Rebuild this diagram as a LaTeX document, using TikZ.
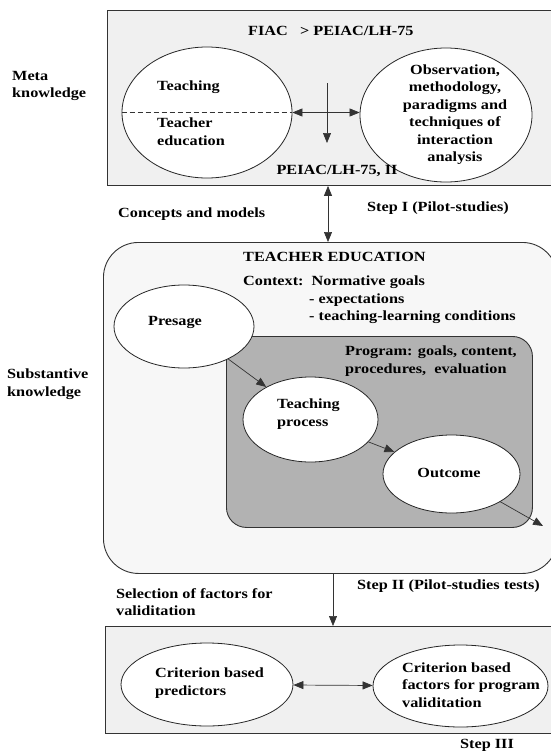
\documentclass[tikz,border=0pt]{standalone}
\usepackage{fontspec}
\setmainfont{Liberation Serif}[FakeStretch=1.16]
\usetikzlibrary{shapes.geometric,arrows.meta}
\begin{document}
\begin{tikzpicture}[x=1pt,y=-1pt,
    txt/.style={inner sep=0pt,font=\fontsize{14}{17.5}\selectfont\bfseries},
    panel/.style={draw=black!80,line width=0.9pt,fill=black!6,rectangle,anchor=north west,inner sep=0pt},
    oval/.style={ellipse,draw=black!85,line width=0.8pt,fill=white,inner sep=0pt},
    link/.style={-{Triangle[length=10pt,width=8pt]},line width=0.7pt,draw=black!80},
    both/.style={{Triangle[length=10pt,width=8pt]}-{Triangle[length=10pt,width=8pt]},line width=0.7pt,draw=black!80}]
  \useasboundingbox (0,0) rectangle (551,755);
  % meta knowledge
  \node[panel,minimum width=453pt,minimum height=175pt] (metabox) at (107,10) {};
  \node[txt,anchor=west] (fiac) at (248,31) {FIAC \ \ > PEIAC/LH-75};
  \node[oval,minimum width=170pt,minimum height=131pt] (teachtop) at (207,112.5) {};
  \draw[dash pattern=on 5pt off 3pt,line width=0.7pt,black!80] (teachtop.west) -- (teachtop.east);
  \node[txt,anchor=west] (teachlbl) at (157,87) {Teaching};
  \node[txt,anchor=west,align=left] (teachedlbl) at (157,131.5) {Teacher\\education};
  \node[oval,minimum width=172pt,minimum height=134pt] (obs) at (446,115) {};
  \node[txt,align=center] (obslbl) at (455,114.5) {Observation,\\methodology,\\paradigms and\\techniques of\\interaction\\analysis};
  \draw[both] (teachtop.east) -- (teachtop.east -| obs.west);
  \coordinate (drop) at (327,83);
  \coordinate (dropend) at (327,143);
  \draw[link] (drop) -- (dropend);
  \node[txt] (peiac) at (337,171) {PEIAC/LH-75, II};
  \node[txt,anchor=west,align=left] (metalbl) at (12,86) {Meta\\knowledge};
  % step I
  \coordinate (k1) at (328,0);
  \node[txt,anchor=west] (concepts) at (118,214) {Concepts and models};
  \node[txt,anchor=west] (step1) at (367,208) {Step I (Pilot-studies)};
  % substantive knowledge
  \node[panel,rounded corners=35pt,fill=black!3,minimum width=454pt,minimum height=331pt] (edubox) at (103,242) {};
  \draw[both] (metabox.south -| k1) -- (edubox.north -| k1);
  \node[txt,anchor=west] (edulbl) at (243,257) {TEACHER EDUCATION};
  \node[txt,anchor=west] (ctx) at (243,282) {Context:\ \ Normative goals};
  \node[txt,anchor=west,align=left] (ctxlist) at (309,308.5) {- expectations\\- teaching-learning conditions};
  \node[panel,rounded corners=20pt,fill=black!30,minimum width=306pt,minimum height=191pt] (progbox) at (226,336) {};
  \node[txt,anchor=west,align=left] (proglbl) at (345,361) {Program: goals, content,\\procedures,\ \ evaluation};
  \node[oval,minimum width=140pt,minimum height=83pt] (presage) at (184,326.5) {};
  \node[txt] (presagelbl) at (175,322) {Presage};
  \node[oval,minimum width=135pt,minimum height=85pt] (process) at (310.5,419.5) {};
  \node[txt,anchor=west,align=left] (processlbl) at (277,414) {Teaching\\process};
  \node[oval,minimum width=137pt,minimum height=78pt] (outcome) at (451.5,474) {};
  \node[txt] (outcomelbl) at (449,473) {Outcome};
  \coordinate (exit) at (543,526);
  \draw[link] (presage) -- (process);
  \draw[link] (process) -- (outcome);
  \draw[link] (outcome) -- (exit);
  \node[txt,anchor=west,align=left] (sublbl) at (7,384) {Substantive\\knowledge};
  % step II
  \coordinate (k2) at (333,0);
  \node[txt,anchor=west] (step2) at (357,586) {Step II (Pilot-studies tests)};
  \node[txt,anchor=west,align=left] (select) at (116,602) {Selection of factors for\\validitation};
  % validation
  \node[panel,minimum width=455pt,minimum height=107pt] (valbox) at (105,626) {};
  \draw[link] (edubox.south -| k2) -- (valbox.north -| k2);
  \node[oval,minimum width=172pt,minimum height=83pt] (pred) at (207,684.5) {};
  \node[txt,anchor=west,align=left] (predlbl) at (155,683) {Criterion based\\predictors};
  \node[oval,minimum width=175pt,minimum height=82pt] (crit) at (460.5,686) {};
  \node[txt,anchor=west,align=left] (critlbl) at (402,685) {Criterion based\\factors for program\\validitation};
  \draw[both] (pred) -- (crit);
  \node[txt,anchor=west] (step3) at (460,745) {Step III};
\end{tikzpicture}
\end{document}
